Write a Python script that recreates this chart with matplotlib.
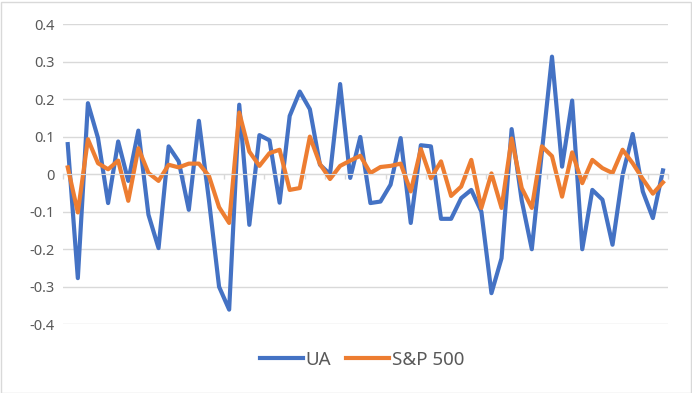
import matplotlib.pyplot as plt
from matplotlib.patches import Rectangle
import numpy as np

plt.rcParams['font.family'] = ['Noto Sans', 'DejaVu Sans']

# monthly returns (60 periods)
ua = [0.080, -0.277, 0.189, 0.096, -0.077, 0.087, -0.018, 0.116, -0.108, -0.197,
      0.074, 0.034, -0.095, 0.142, -0.070, -0.300, -0.361, 0.185, -0.135, 0.104,
      0.090, -0.076, 0.155, 0.220, 0.173, 0.025, 0.000, 0.240, -0.010, 0.099,
      -0.077, -0.073, -0.028, 0.096, -0.130, 0.077, 0.074, -0.119, -0.119, -0.064,
      -0.042, -0.100, -0.317, -0.224, 0.120, -0.070, -0.200, 0.060, 0.313, 0.020,
      0.196, -0.200, -0.042, -0.068, -0.188, -0.002, 0.107, -0.046, -0.117, 0.010]
sp500 = [0.018, -0.102, 0.093, 0.029, 0.013, 0.036, -0.071, 0.069, 0.003, -0.018,
         0.025, 0.018, 0.028, 0.028, -0.005, -0.088, -0.130, 0.164, 0.060, 0.022,
         0.056, 0.065, -0.042, -0.037, 0.100, 0.027, -0.013, 0.022, 0.036, 0.049,
         0.003, 0.019, 0.022, 0.028, -0.046, 0.067, -0.011, 0.034, -0.058, -0.033,
         0.038, -0.090, 0.002, -0.090, 0.095, -0.037, -0.090, 0.074, 0.048, -0.060,
         0.058, -0.024, 0.038, 0.016, 0.003, 0.065, 0.029, -0.013, -0.052, -0.022]
yticks = [-0.4, -0.3, -0.2, -0.1, 0, 0.1, 0.2, 0.3, 0.4]
ytick_labels = ['-0.4', '-0.3', '-0.2', '-0.1', '0', '0.1', '0.2', '0.3', '0.4']

fig = plt.figure(figsize=(6.92, 3.93), dpi=100)
ax = fig.add_axes([62.7 / 692, 1 - 324.3 / 393, (668 - 62.7) / 692, (324.3 - 24) / 393])

x = np.arange(len(ua))
ax.plot(x, ua, color='#4472C4', lw=3.0, label='UA', solid_joinstyle='round')
ax.plot(x, sp500, color='#ED7D31', lw=3.0, label='S&P 500', solid_joinstyle='round')

ax.set_xlim(-0.5, len(ua) - 0.5)
ax.set_ylim(-0.4, 0.4)
ax.set_yticks(yticks)
ax.set_yticklabels(ytick_labels)
ax.tick_params(axis='y', length=0, pad=6, labelsize=10.5, labelcolor='#595959')

# category axis sits on zero
ax.spines['bottom'].set_position(('data', 0))
ax.spines['bottom'].set_color('#D9D9D9')
for s in ['top', 'right', 'left']:
    ax.spines[s].set_visible(False)
ax.set_xticks(np.arange(-0.5, len(ua), 2))
ax.set_xticklabels([])
ax.tick_params(axis='x', direction='out', length=3.5, color='#D9D9D9', width=1)

ax.grid(axis='y', color='#D9D9D9', lw=1)
ax.set_axisbelow(True)

fig.legend(loc='center', bbox_to_anchor=(362 / 692, 1 - 360 / 393), ncol=2, frameon=False,
           fontsize=13.5, handlelength=2.3, handletextpad=0.15, columnspacing=0.8,
           labelcolor='#595959')

fig.add_artist(Rectangle((0.5 / 692, 0.5 / 393), 690 / 692, 391 / 393,
                         transform=fig.transFigure, fill=False,
                         edgecolor='#D9D9D9', lw=1))

fig.savefig('out.png', dpi=100)
